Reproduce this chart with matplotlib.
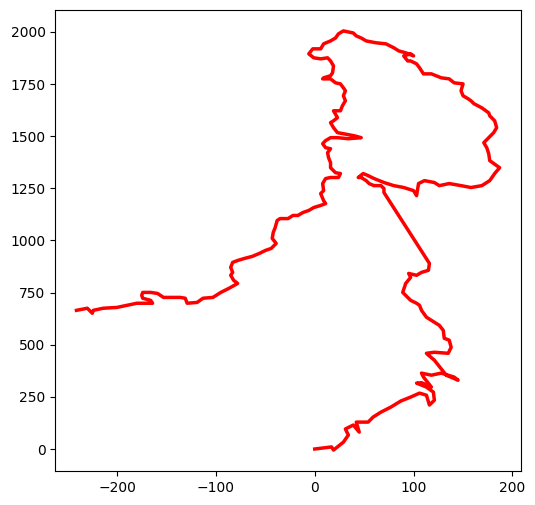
import matplotlib
matplotlib.use("Agg")
import matplotlib.pyplot as plt

# path of the walk (start at origin, end at far left)
walk_x = [0, 17, 19, 29, 34, 31, 39, 45, 42, 54, 59, 67, 77, 87, 97, 106, 113, 116, 121, 120,
          113, 103, 108, 118, 110, 108, 118, 128, 141, 145, 133, 125, 121, 115, 113, 121, 135, 138, 136, 131,
          130, 126, 118, 113, 108, 106, 103, 97, 92, 89, 92, 97, 95, 103, 108, 115, 116, 70, 70, 67,
          60, 55, 52, 47, 44, 49, 54, 60, 70, 80, 90, 100, 103, 105, 111, 121, 126, 136, 148, 158,
          169, 177, 182, 187, 184, 177, 176, 174, 171, 176, 181, 184, 182, 177, 176, 169, 161, 158, 155, 150,
          148, 150, 141, 136, 128, 118, 110, 106, 103, 97, 94, 90, 97, 100, 92, 85, 80, 72, 62, 52,
          47, 42, 39, 29, 24, 21, 16, 9, 6, -2, -6, -1, 6, 13, 16, 19, 18, 16, 9, 8,
          16, 21, 26, 29, 31, 29, 31, 28, 26, 19, 23, 19, 16, 19, 23, 29, 40, 47, 34, 23,
          16, 11, 8, 11, 16, 13, 14, 16, 16, 21, 26, 24, 16, 11, 8, 9, 6, 9, 11, 6,
          -1, -6, -12, -17, -22, -27, -35, -38, -40, -42, -43, -39, -44, -50, -56, -63, -71, -78, -83, -85,
          -83, -85, -82, -78, -87, -95, -103, -113, -119, -129, -131, -136, -146, -153, -159, -166, -174, -175, -174, -166,
          -164, -172, -180, -190, -200, -214, -224, -225, -230, -241]
walk_y = [0, 10, -5, 33, 67, 96, 115, 81, 129, 129, 153, 177, 201, 230, 249, 268, 258, 211, 234, 273,
          297, 316, 318, 297, 345, 364, 354, 364, 345, 330, 354, 402, 426, 450, 459, 464, 459, 488, 522, 531,
          569, 593, 617, 632, 665, 689, 699, 713, 737, 751, 794, 823, 842, 833, 847, 857, 890, 1230, 1249, 1263,
          1263, 1273, 1287, 1302, 1302, 1321, 1311, 1297, 1278, 1263, 1254, 1239, 1215, 1273, 1287, 1278, 1263, 1273, 1263, 1254,
          1263, 1287, 1321, 1349, 1359, 1383, 1416, 1445, 1469, 1493, 1517, 1541, 1574, 1598, 1612, 1636, 1656, 1670, 1680, 1694,
          1718, 1751, 1756, 1775, 1780, 1799, 1799, 1828, 1847, 1861, 1861, 1885, 1895, 1885, 1900, 1909, 1924, 1943, 1948, 1957,
          1971, 1981, 1995, 2005, 1991, 1971, 1957, 1943, 1919, 1919, 1895, 1876, 1871, 1876, 1861, 1837, 1804, 1790, 1780, 1775,
          1775, 1756, 1751, 1732, 1718, 1694, 1670, 1646, 1622, 1622, 1589, 1574, 1565, 1541, 1517, 1512, 1502, 1493, 1488, 1493,
          1493, 1479, 1464, 1445, 1440, 1421, 1397, 1373, 1349, 1325, 1321, 1302, 1302, 1297, 1273, 1239, 1225, 1191, 1177, 1168,
          1158, 1144, 1134, 1120, 1120, 1105, 1105, 1096, 1062, 1038, 1010, 986, 962, 952, 938, 924, 914, 904, 895, 871,
          847, 833, 809, 794, 770, 751, 727, 723, 703, 699, 723, 727, 727, 727, 746, 751, 751, 737, 723, 713,
          699, 699, 699, 689, 679, 675, 665, 651, 675, 665]

fig = plt.figure(figsize=(5.35, 5.05), dpi=100)
ax = fig.add_axes([0.1034, 0.0673, 0.870, 0.913])

ax.plot(walk_x, walk_y, color="red", linewidth=2.5, solid_joinstyle="round")

fig.savefig("out.png", dpi=100)
